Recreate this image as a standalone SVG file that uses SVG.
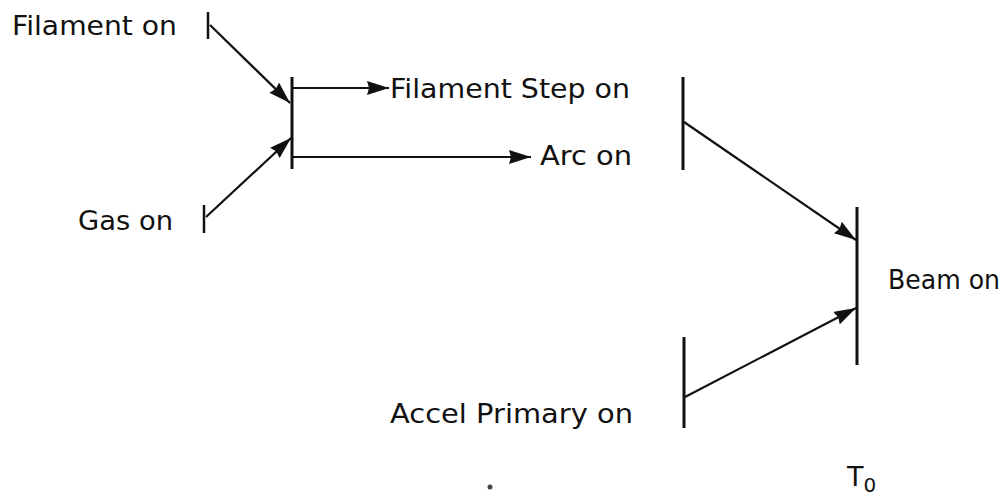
<svg xmlns="http://www.w3.org/2000/svg" width="1008" height="497" viewBox="0 0 1008 497">
  <defs>
    <marker id="head" markerUnits="userSpaceOnUse" markerWidth="22" markerHeight="14" refX="22" refY="7" orient="auto">
      <path d="M0,0 L22,7 L0,14 L2,7 z" fill="#111"/>
    </marker>
    <style>
      .lbl { font-family: "DejaVu Sans", "Liberation Sans", sans-serif; font-size: 27px; fill: #111; }
      .bar { stroke: #111; stroke-width: 3; fill: none; }
      .tick { stroke: #111; stroke-width: 2.5; fill: none; }
      .link { stroke: #111; stroke-width: 2.2; fill: none; marker-end: url(#head); }
    </style>
  </defs>
  <rect width="1008" height="497" fill="#fff"/>

  <!-- event nodes: label plus its time bar -->
  <g id="filament-on">
    <text class="lbl" x="12" y="35" textLength="165" lengthAdjust="spacingAndGlyphs">Filament on</text>
    <line class="tick" x1="208" y1="12" x2="208" y2="39"/>
  </g>
  <g id="gas-on">
    <text class="lbl" x="78" y="230" textLength="95" lengthAdjust="spacingAndGlyphs">Gas on</text>
    <line class="tick" x1="204" y1="205" x2="204" y2="233"/>
  </g>
  <g id="ignition">
    <line class="bar" x1="292" y1="77" x2="292" y2="169"/>
  </g>
  <g id="filament-step-on">
    <text class="lbl" x="390" y="98" textLength="240" lengthAdjust="spacingAndGlyphs">Filament Step on</text>
  </g>
  <g id="arc-on">
    <text class="lbl" x="540" y="165" textLength="92" lengthAdjust="spacingAndGlyphs">Arc on</text>
    <line class="bar" x1="683" y1="77" x2="683" y2="170"/>
  </g>
  <g id="accel-primary-on">
    <text class="lbl" x="390" y="423" textLength="243" lengthAdjust="spacingAndGlyphs">Accel Primary on</text>
    <line class="bar" x1="684" y1="337" x2="684" y2="428"/>
  </g>
  <g id="beam-on">
    <line class="bar" x1="857" y1="207" x2="857" y2="365"/>
    <text class="lbl" x="888" y="289" textLength="112" lengthAdjust="spacingAndGlyphs">Beam on</text>
  </g>
  <g id="t-zero">
    <text class="lbl" x="847" y="486">T<tspan font-size="20" dy="6">0</tspan></text>
  </g>
  <circle cx="490" cy="487" r="2.5" fill="#444"/>

  <!-- connectors -->
  <g id="connectors">
    <line class="link" x1="210" y1="25" x2="290" y2="103"/>
    <line class="link" x1="206" y1="217" x2="291" y2="138"/>
    <line class="link" x1="292" y1="88" x2="389" y2="88"/>
    <line class="link" x1="292" y1="157" x2="531" y2="157"/>
    <line class="link" x1="684" y1="122" x2="856" y2="240"/>
    <line class="link" x1="685" y1="397" x2="856" y2="308"/>
  </g>
</svg>
